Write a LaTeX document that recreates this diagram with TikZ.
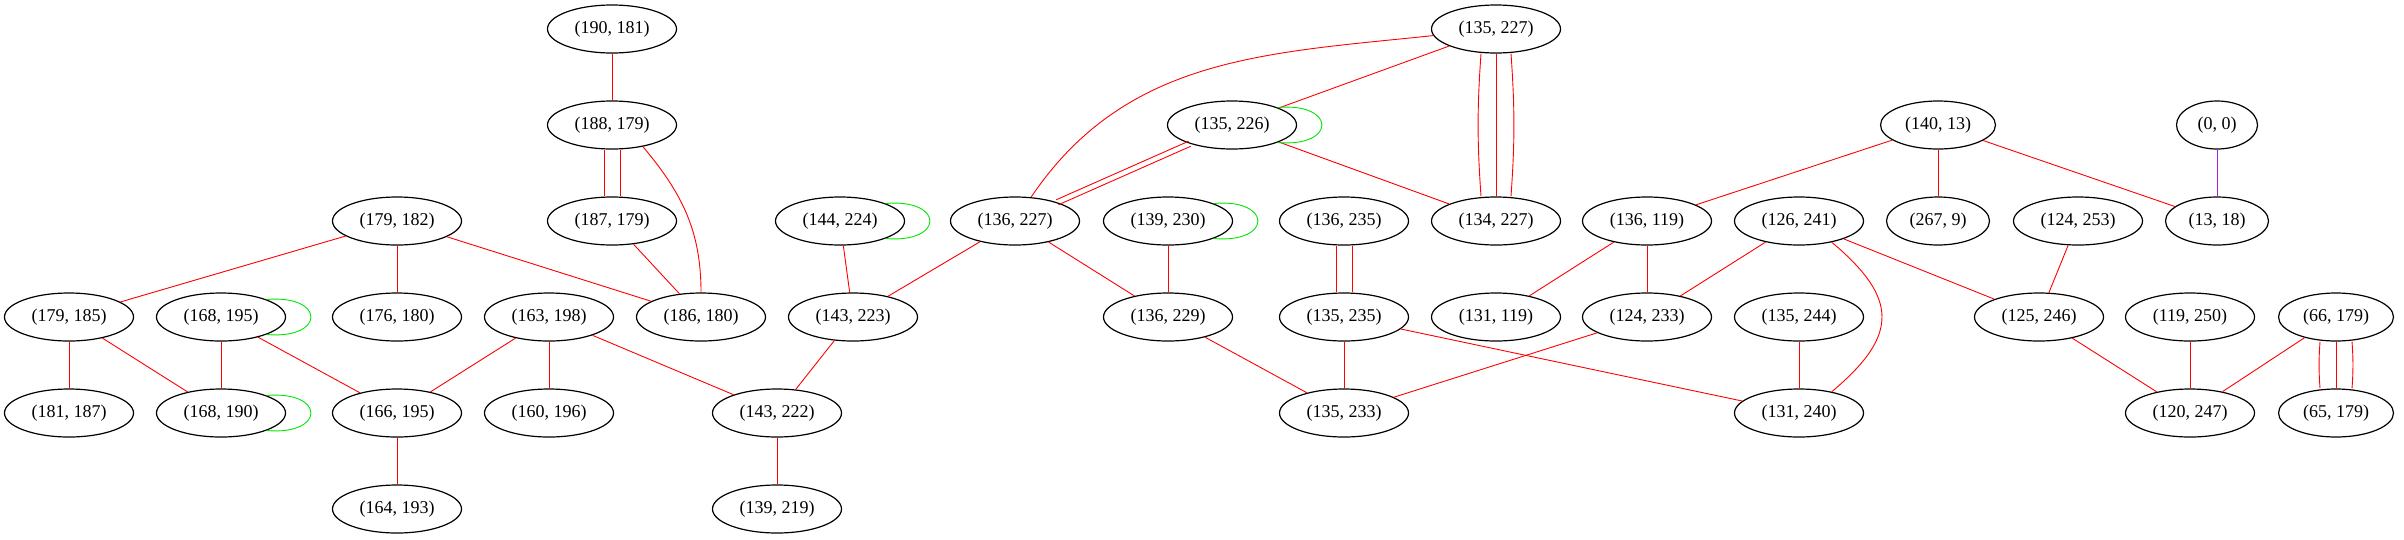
\documentclass[tikz,border=0pt]{standalone}
\usepackage{fontspec}
\setmainfont{Liberation Serif}
\usetikzlibrary{shapes.geometric}
\definecolor{gvred}{RGB}{255,0,0}
\definecolor{gvgreen}{RGB}{0,230,0}
\definecolor{gvpurple}{RGB}{160,32,240}
\begin{document}
\begin{tikzpicture}[x=1pt,y=-1pt,
  nd/.style={ellipse,draw,line width=1.2pt,minimum width=129pt,minimum height=48pt,inner sep=0pt,font=\fontsize{18}{20}\selectfont},
  ndw/.style={nd,minimum width=#1},
  re/.style={draw=gvred,line width=0.9pt},
  gl/.style={draw=gvgreen,line width=0.9pt},
  pu/.style={draw=gvpurple,line width=0.9pt}]
\useasboundingbox (0,0) rectangle (2404,539);
% row 1
\node[nd] (a190181) at (612,29) {(190, 181)};
\node[nd] (a135227) at (1496,29) {(135, 227)};
% row 2
\node[nd] (a188179) at (612,125) {(188, 179)};
\node[nd] (a135226) at (1232,125) {(135, 226)};
\node[ndw=115pt] (a140013) at (1938,125) {(140, 13)};
\node[ndw=81pt] (a000000) at (2217,125) {(0, 0)};
% row 3
\node[nd] (a179182) at (397,221) {(179, 182)};
\node[nd] (a187179) at (612,221) {(187, 179)};
\node[nd] (a144224) at (840,221) {(144, 224)};
\node[nd] (a136227) at (1015,221) {(136, 227)};
\node[nd] (a139230) at (1168,221) {(139, 230)};
\node[nd] (a136235) at (1344,221) {(136, 235)};
\node[nd] (a134227) at (1496,221) {(134, 227)};
\node[nd] (a136119) at (1647,221) {(136, 119)};
\node[nd] (a126241) at (1799,221) {(126, 241)};
\node[ndw=103pt] (a267009) at (1938,221) {(267, 9)};
\node[nd] (a124253) at (2078,221) {(124, 253)};
\node[ndw=103pt] (a013018) at (2217,221) {(13, 18)};
% row 4
\node[nd] (a179185) at (69,317) {(179, 185)};
\node[nd] (a168195) at (221,317) {(168, 195)};
\node[nd] (a176180) at (397,317) {(176, 180)};
\node[nd] (a163198) at (549,317) {(163, 198)};
\node[nd] (a186180) at (701,317) {(186, 180)};
\node[nd] (a143223) at (853,317) {(143, 223)};
\node[nd] (a136229) at (1168,317) {(136, 229)};
\node[nd] (a135235) at (1344,317) {(135, 235)};
\node[nd] (a131119) at (1496,317) {(131, 119)};
\node[nd] (a124233) at (1647,317) {(124, 233)};
\node[nd] (a135244) at (1799,317) {(135, 244)};
\node[nd] (a125246) at (2039,317) {(125, 246)};
\node[nd] (a119250) at (2190,317) {(119, 250)};
\node[ndw=115pt] (a066179) at (2336,317) {(66, 179)};
% row 5
\node[nd] (a181187) at (69,413) {(181, 187)};
\node[nd] (a168190) at (221,413) {(168, 190)};
\node[nd] (a166195) at (397,413) {(166, 195)};
\node[nd] (a160196) at (549,413) {(160, 196)};
\node[nd] (a143222) at (777,413) {(143, 222)};
\node[nd] (a135233) at (1344,413) {(135, 233)};
\node[nd] (a131240) at (1799,413) {(131, 240)};
\node[nd] (a120247) at (2190,413) {(120, 247)};
\node[ndw=115pt] (a065179) at (2336,413) {(65, 179)};
% row 6
\node[nd] (a164193) at (397,509) {(164, 193)};
\node[nd] (a139219) at (777,509) {(139, 219)};

% edges
\draw[re] (a190181) -- (a188179);
\draw[re,transform canvas={xshift=-8pt}] (a188179) -- (a187179);
\draw[re,transform canvas={xshift=8pt}] (a188179) -- (a187179);
\draw[re] (a188179.-35) to[out=-50,in=90] (a186180.90);
\draw[re] (a187179) -- (a186180);
\draw[re] (a179182) -- (a179185);
\draw[re] (a179182) -- (a176180);
\draw[re] (a179182) -- (a186180);
\draw[re] (a179185) -- (a181187);
\draw[re] (a179185) -- (a168190);
\draw[re] (a168195) -- (a168190);
\draw[re] (a168195) -- (a166195);
\draw[re] (a163198) -- (a166195);
\draw[re] (a163198) -- (a160196);
\draw[re] (a163198) -- (a143222);
\draw[re] (a166195) -- (a164193);
\draw[re] (a143222) -- (a139219);
\draw[re] (a143223) -- (a143222);
\draw[re] (a144224) -- (a143223);
\draw[re] (a136227) -- (a143223);
\draw[re] (a136227) -- (a136229);
\draw[re] (a135227) to[out=186,in=56] (a136227);
\draw[re] (a135227) -- (a135226);
\draw[re] (a135227) -- (a134227);
\draw[re,transform canvas={xshift=-15pt}] (a135227.south) to[out=-94,in=94] (a134227.north);
\draw[re,transform canvas={xshift=15pt}] (a135227.south) to[out=-86,in=86] (a134227.north);
\draw[re,transform canvas={xshift=-1.1pt,yshift=2.5pt}] (a135226) -- (a136227);
\draw[re,transform canvas={xshift=1.1pt,yshift=-2.5pt}] (a135226) -- (a136227);
\draw[re] (a135226) -- (a134227);
\draw[re] (a139230) -- (a136229);
\draw[re] (a136229) -- (a135233);
\draw[re,transform canvas={xshift=-8pt}] (a136235) -- (a135235);
\draw[re,transform canvas={xshift=8pt}] (a136235) -- (a135235);
\draw[re] (a135235) -- (a135233);
\draw[re] (a135235) -- (a131240);
\draw[re] (a140013) -- (a136119);
\draw[re] (a140013) -- (a267009);
\draw[re] (a140013) -- (a013018);
\draw[pu] (a000000) -- (a013018);
\draw[re] (a136119) -- (a131119);
\draw[re] (a136119) -- (a124233);
\draw[re] (a126241) -- (a124233);
\draw[re] (a126241.-33) to[out=-40,in=40,looseness=1.5] (a131240.33);
\draw[re] (a126241) -- (a125246);
\draw[re] (a124233) -- (a135233);
\draw[re] (a135244) -- (a131240);
\draw[re] (a124253) -- (a125246);
\draw[re] (a125246) -- (a120247);
\draw[re] (a119250) -- (a120247);
\draw[re] (a066179) -- (a120247);
\draw[re] (a066179) -- (a065179);
\draw[re,transform canvas={xshift=-16pt}] (a066179.south) to[out=-94,in=94] (a065179.north);
\draw[re,transform canvas={xshift=16pt}] (a066179.south) to[out=-86,in=86] (a065179.north);

% loops
\draw[gl] (a168195.21) .. controls +(59,-5) and +(59,5) .. (a168195.-21);
\draw[gl] (a168190.21) .. controls +(59,-5) and +(59,5) .. (a168190.-21);
\draw[gl] (a144224.21) .. controls +(59,-5) and +(59,5) .. (a144224.-21);
\draw[gl] (a135226.21) .. controls +(59,-5) and +(59,5) .. (a135226.-21);
\draw[gl] (a139230.21) .. controls +(59,-5) and +(59,5) .. (a139230.-21);
\end{tikzpicture}
\end{document}
